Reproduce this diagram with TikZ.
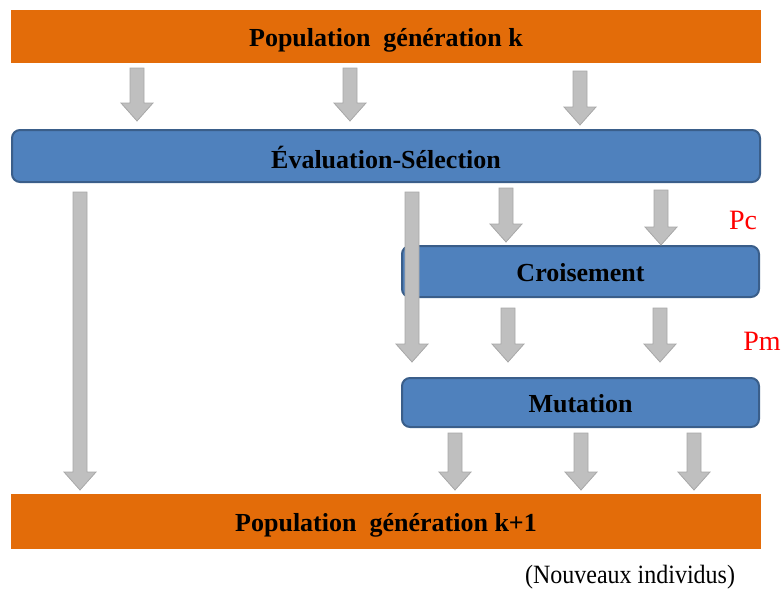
\documentclass[tikz,border=0pt]{standalone}
\usepackage{fontspec}
\setmainfont{Liberation Serif}
\usetikzlibrary{calc}
\definecolor{orangebar}{HTML}{E36C09}
\definecolor{bluebox}{HTML}{4F81BD}
\definecolor{blueedge}{HTML}{3A5E8A}
\definecolor{arrfillc}{HTML}{BFBFBF}
\definecolor{arredgec}{HTML}{A8A8A8}
\tikzset{
  orangestyle/.style={fill=orangebar, draw=none, minimum width=750pt, minimum height=53pt, inner sep=0pt,
    font=\fontsize{26}{28}\selectfont\bfseries, text depth=0pt},
  bluestyle/.style={fill=bluebox, draw=blueedge, line width=2pt, rounded corners=8pt, inner sep=0pt,
    font=\fontsize{26}{28}\selectfont\bfseries, text depth=0pt},
  redlabel/.style={text=red, font=\fontsize{28}{30}\selectfont, inner sep=0pt, text height=19pt, text depth=0pt},
  notelabel/.style={font=\fontsize{24}{26}\selectfont, inner sep=0pt},
  arrstyle/.style={fill=arrfillc, draw=arredgec, line width=0.8pt, line join=miter},
}
% block arrow from #1 (shaft top) to #2 (tip)
\newcommand\garr[2]{%
  \path[arrstyle] let \p1=(#1), \p2=(#2) in
    (\x1-7pt,\y1) -- (\x1+7pt,\y1) -- (\x1+7pt,\y2+18pt) -- (\x1+16pt,\y2+18pt)
    -- (\x1,\y2) -- (\x1-16pt,\y2+18pt) -- (\x1-7pt,\y2+18pt) -- cycle;}
\begin{document}
\begin{tikzpicture}[x=1pt,y=-1pt]
\useasboundingbox (0,0) rectangle (783,595);

\node[orangestyle, text height=21pt] (top) at (386,36) {Population\ \ génération k};
\node[bluestyle, minimum width=748pt, minimum height=52pt, text height=25pt] (ev) at (386,156) {Évaluation-Sélection};
\node[bluestyle, minimum width=357pt, minimum height=51pt, text height=20pt] (cr) at (580.5,271.5) {Croisement};
\node[bluestyle, minimum width=357pt, minimum height=49pt, text height=20pt] (mu) at (580.5,402.5) {Mutation};
\node[orangestyle, minimum height=55pt, text height=19pt] (bot) at (386,521.5) {Population\ \ génération k+1};

\node[redlabel] (pc) at (743,220) {Pc};
\node[redlabel] (pm) at (762,341) {Pm};
\node[notelabel] (nouv) at (630,577) {\scalebox{1}[1.1]{(Nouveaux individus)}};

% arrow end points
\coordinate (a1s) at (137,68);  \coordinate (a1e) at (137,121);
\coordinate (a2s) at (350,68);  \coordinate (a2e) at (350,121);
\coordinate (a3s) at (580,71);  \coordinate (a3e) at (580,125);
\coordinate (a4s) at (80,192);  \coordinate (a4e) at (80,490);
\coordinate (a5s) at (412,192); \coordinate (a5e) at (412,362);
\coordinate (a6s) at (506,188); \coordinate (a6e) at (506,242);
\coordinate (a7s) at (661,190); \coordinate (a7e) at (661,245);
\coordinate (a8s) at (508,308); \coordinate (a8e) at (508,362);
\coordinate (a9s) at (660,308); \coordinate (a9e) at (660,362);
\coordinate (a10s) at (455,433); \coordinate (a10e) at (455,490);
\coordinate (a11s) at (581,433); \coordinate (a11e) at (581,490);
\coordinate (a12s) at (694,433); \coordinate (a12e) at (694,490);

\garr{a1s}{a1e}
\garr{a2s}{a2e}
\garr{a3s}{a3e}
\garr{a4s}{a4e}
\garr{a5s}{a5e}
\garr{a6s}{a6e}
\garr{a7s}{a7e}
\garr{a8s}{a8e}
\garr{a9s}{a9e}
\garr{a10s}{a10e}
\garr{a11s}{a11e}
\garr{a12s}{a12e}
\end{tikzpicture}
\end{document}
